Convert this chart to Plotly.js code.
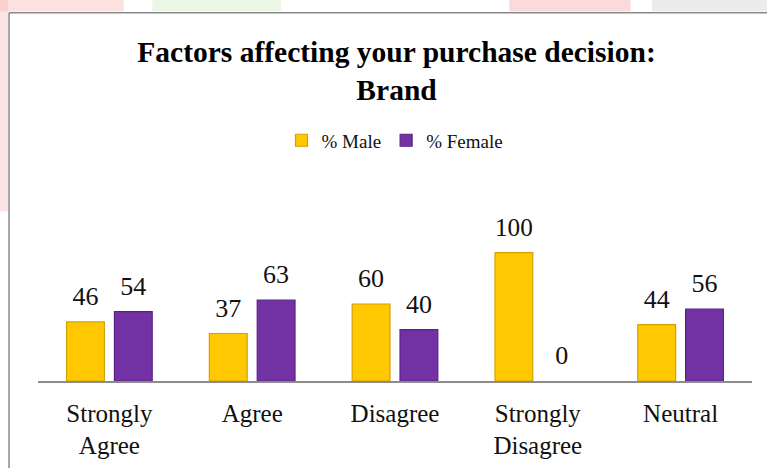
<!DOCTYPE html>
<html>
<head>
<meta charset="utf-8">
<script src="https://cdn.plot.ly/plotly-3.0.1.min.js"></script>
<style>html,body{margin:0;padding:0;background:#fff;}#chart{width:767px;height:468px;}</style>
</head>
<body>
<div id="chart"></div>
<script>
var categories = ['Strongly<br>Agree', 'Agree', 'Disagree', 'Strongly<br>Disagree', 'Neutral'];
var maleValues = [46, 37, 60, 100, 44];
var femaleValues = [54, 63, 40, 0, 56];
var seriesNames = ['% Male', '% Female'];
var titleText = '<b>Factors affecting your purchase decision:<br>Brand</b>';

var serif = 'Liberation Serif';
var labelTemplate = '<span style="font-size:26px">%{y}</span><br> ';

function edgeWidths(vals) { return vals.map(function (v) { return v === 0 ? 0 : 1.2; }); }

var traces = [
  {
    type: 'bar', name: seriesNames[0], x: categories, y: maleValues,
    marker: {color: '#FFC800', line: {color: '#D4A200', width: edgeWidths(maleValues)}},
    texttemplate: labelTemplate, textposition: 'outside', cliponaxis: false,
    textfont: {family: serif, size: 9, color: '#111'}
  },
  {
    type: 'bar', name: seriesNames[1], x: categories, y: femaleValues,
    marker: {color: '#7332A4', line: {color: '#5A2286', width: edgeWidths(femaleValues)}},
    texttemplate: labelTemplate, textposition: 'outside', cliponaxis: false,
    textfont: {family: serif, size: 9, color: '#111'}
  }
];

var layout = {
  width: 767, height: 468,
  paper_bgcolor: '#ffffff', plot_bgcolor: '#ffffff',
  margin: {l: 38, r: 15, t: 227, b: 86.5},
  barmode: 'group', bargap: 0.33, bargroupgap: 0.21,
  title: {
    text: titleText, font: {family: serif, size: 29.5, color: '#000'},
    x: 0.517, xanchor: 'center', xref: 'container',
    y: 0.868, yanchor: 'top', yref: 'container'
  },
  showlegend: true,
  legend: {
    orientation: 'h', x: 0.5, xanchor: 'center', xref: 'paper',
    y: 0.70, yanchor: 'middle', yref: 'container',
    font: {family: serif, size: 19, color: '#111'},
    itemwidth: 30, traceorder: 'normal'
  },
  xaxis: {
    showline: true, linecolor: '#8c8c8c', linewidth: 1.5,
    showgrid: false, zeroline: false, ticks: '',
    ticklabelstandoff: 9,
    tickfont: {family: serif, size: 25, color: '#111'}
  },
  yaxis: {
    visible: false, range: [0, 120], showgrid: false, zeroline: false
  },
  shapes: [
    {type: 'rect', xref: 'paper', yref: 'paper', x0: -0.06, x1: -0.042, y0: 1.1, y1: 2.5,
     line: {width: 0}, fillcolor: 'rgba(245,180,180,0.35)', layer: 'below'},
    {type: 'rect', xref: 'paper', yref: 'paper', x0: -0.06, x1: 0.12, y0: 2.4, y1: 2.5,
     line: {width: 0}, fillcolor: 'rgba(245,170,170,0.35)', layer: 'below'},
    {type: 'rect', xref: 'paper', yref: 'paper', x0: 0.16, x1: 0.34, y0: 2.4, y1: 2.5,
     line: {width: 0}, fillcolor: 'rgba(190,230,170,0.3)', layer: 'below'},
    {type: 'rect', xref: 'paper', yref: 'paper', x0: 0.66, x1: 0.83, y0: 2.4, y1: 2.5,
     line: {width: 0}, fillcolor: 'rgba(240,150,150,0.35)', layer: 'below'},
    {type: 'rect', xref: 'paper', yref: 'paper', x0: 0.86, x1: 1.05, y0: 2.4, y1: 2.5,
     line: {width: 0}, fillcolor: 'rgba(200,200,200,0.35)', layer: 'below'},
    {type: 'line', xref: 'paper', yref: 'paper', x0: -0.0406, x1: -0.0406, y0: -0.6, y1: 2.392,
     line: {color: '#8a8a8a', width: 1.5}},
    {type: 'line', xref: 'paper', yref: 'paper', x0: -0.0406, x1: 1.05, y0: 2.392, y1: 2.392,
     line: {color: '#8a8a8a', width: 1.5}}
  ]
};

Plotly.newPlot('chart', traces, layout, {displayModeBar: false, staticPlot: true});
</script>
</body>
</html>
